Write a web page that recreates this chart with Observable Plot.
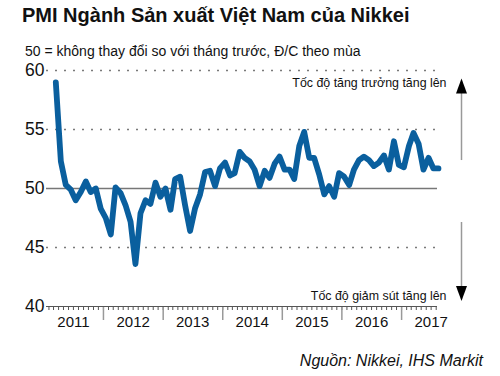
<!DOCTYPE html>
<html><head><meta charset="utf-8">
<script src="https://cdn.jsdelivr.net/npm/d3@7"></script>
<script src="https://cdn.jsdelivr.net/npm/@observablehq/plot@0.6"></script>
<style>
body{margin:0;background:#fff;font-family:"Liberation Sans",Arial,sans-serif;}
#wrap{position:relative;width:500px;height:376px;overflow:hidden;background:#fff;}
#title{position:absolute;left:22px;top:4px;font-size:20px;font-weight:bold;color:#111;white-space:nowrap;}
#sub{position:absolute;left:25px;top:42.5px;font-size:14px;color:#111;white-space:nowrap;}
#chart{position:absolute;left:0;top:60px;}
#cap{position:absolute;right:17px;top:352px;font-size:16px;font-style:italic;color:#111;white-space:nowrap;}
</style></head><body>
<div id="wrap">
<div id="title">PMI Ngành Sản xuất Việt Nam của Nikkei</div>
<div id="sub">50 = không thay đổi so với tháng trước, Đ/C theo mùa</div>
<div id="chart"></div>
<div id="cap">Nguồn: Nikkei, IHS Markit</div>
</div>
<script>
// Monthly PMI, March 2011 .. August 2017
const firstYear = 2011, firstMonth = 2; // March (0-based)
const pmi = [
  59.0, 52.3, 50.3, 49.9, 49.0, 49.7, 50.6, 49.7, 50.0, 48.3,
  47.5, 46.1, 50.1, 49.6, 48.6, 47.2, 43.6, 47.9, 49.0, 48.7, 50.5, 49.3,
  50.0, 48.2, 50.8, 51.0, 48.6, 46.4, 48.3, 49.5, 51.4, 51.5, 50.2, 51.7,
  52.2, 51.1, 51.3, 53.1, 52.6, 52.3, 51.6, 50.2, 51.5, 50.9, 52.1, 52.7,
  51.6, 51.6, 50.8, 53.6, 54.8, 52.6, 52.6, 51.2, 49.5, 50.2, 49.3, 51.3,
  51.0, 50.3, 51.6, 52.4, 52.7, 52.4, 51.9, 52.2, 52.8, 51.6, 54.0, 52.0,
  51.8, 53.6, 54.7, 53.8, 51.6, 52.6, 51.7, 51.7
];
const yearLabels = [2011, 2012, 2013, 2014, 2015, 2016, 2017];
const yTicks = [40, 45, 50, 55, 60];
const dottedLevels = [45, 55, 60];
const noChangeLevel = [50];
const baseLevel = [40];
const upText = "Tốc độ tăng trưởng tăng lên";
const downText = "Tốc độ giảm sút tăng lên";

const data = pmi.map((v, i) => ({date: new Date(Date.UTC(firstYear, firstMonth + i, 15)), value: v}));
const xStart = new Date(Date.UTC(2011, 0, 17));
const xEnd = new Date(Date.UTC(2017, 7, 9));
const monthTicks = d3.utcMonths(xStart, xEnd);
const yearBounds = d3.utcYears(xStart, xEnd);

const upTri = {draw(ctx) { ctx.moveTo(0, -7.5); ctx.lineTo(5.5, 7.5); ctx.lineTo(-5.5, 7.5); ctx.closePath(); }};
const downTri = {draw(ctx) { ctx.moveTo(0, 7.5); ctx.lineTo(5.5, -7.5); ctx.lineTo(-5.5, -7.5); ctx.closePath(); }};

const chart = Plot.plot({
  width: 500, height: 276,
  marginTop: 10, marginBottom: 30, marginLeft: 46, marginRight: 63,
  style: {fontFamily: "Liberation Sans, Arial, sans-serif", background: "white", color: "#111", overflow: "visible"},
  x: {type: "utc", domain: [xStart, xEnd], label: null},
  y: {domain: [40, 60], label: null},
  marks: [
    Plot.ruleY(dottedLevels, {stroke: "#7a7a7a", strokeDasharray: "2,7", strokeWidth: 1.4}),
    Plot.ruleY(noChangeLevel, {stroke: "#777", strokeWidth: 1.3}),
    Plot.axisY(yTicks, {tickSize: 0, tickPadding: 2, fontSize: 17.5}),
    Plot.axisX(monthTicks, {tickSize: 4, tickFormat: () => "", stroke: "#555"}),
    Plot.axisX(yearBounds, {tickSize: 14, tickFormat: () => "", stroke: "#999", strokeWidth: 1.5}),
    Plot.ruleY(baseLevel, {stroke: "#555"}),
    Plot.text(yearLabels, {x: d => new Date(Date.UTC(d, 6, 1)), text: d => String(d), frameAnchor: "bottom", dy: 20, fontSize: 15}),
    Plot.line(data, {x: "date", y: "value", stroke: "#0a5f9e", strokeWidth: 5.8, strokeLinejoin: "round"}),
    Plot.text([upText], {x: () => xEnd, y: () => 58.64, text: d => d, textAnchor: "end", lineAnchor: "bottom", dx: 9, fontSize: 12.4}),
    Plot.text([downText], {x: () => xEnd, y: () => 40.59, text: d => d, textAnchor: "end", lineAnchor: "bottom", dx: 9, fontSize: 12.4}),
    Plot.ruleX([xEnd], {x: d => d, y1: () => 58.05, y2: () => 52.37, dx: 24, stroke: "#999", strokeWidth: 1.5}),
    Plot.ruleX([xEnd], {x: d => d, y1: () => 47.12, y2: () => 41.61, dx: 24, stroke: "#999", strokeWidth: 1.5}),
    Plot.dot([xEnd], {x: d => d, y: () => 58.69, symbol: upTri, r: 5, fill: "#000", stroke: "none", dx: 24}),
    Plot.dot([xEnd], {x: d => d, y: () => 41.10, symbol: downTri, r: 5, fill: "#000", stroke: "none", dx: 24})
  ]
});
document.getElementById("chart").appendChild(chart);
</script>
</body></html>
